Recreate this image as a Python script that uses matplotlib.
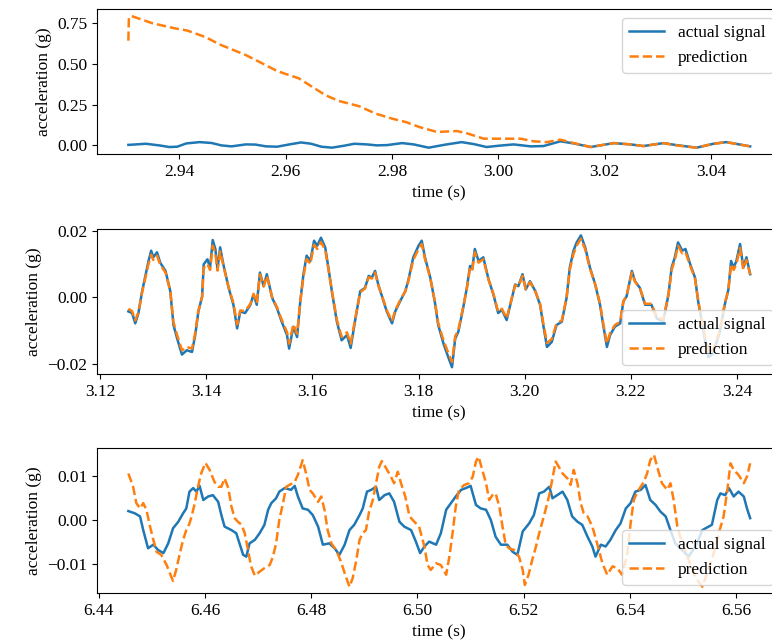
import matplotlib
matplotlib.use('Agg')
import matplotlib.pyplot as plt

plt.rcParams['font.family'] = ['Liberation Serif', 'DejaVu Serif']
plt.rcParams['font.size'] = 12.5

# panel 1: start of prediction
t1a = [2.9304, 2.9337, 2.9362, 2.9381, 2.9396, 2.9413, 2.9438, 2.9460, 2.9479, 2.9498,
       2.9525, 2.9543, 2.9563, 2.9584, 2.9607, 2.9629, 2.9648, 2.9667, 2.9687, 2.9710,
       2.9729, 2.9753, 2.9772, 2.9791, 2.9819, 2.9841, 2.9869, 2.9901, 2.9931, 2.9954,
       2.9978, 3.0001, 3.0029, 3.0061, 3.0085, 3.0117, 3.0142, 3.0174, 3.0217, 3.0249,
       3.0273, 3.0311, 3.0335, 3.0373, 3.0405, 3.0429, 3.0474]
a1 = [0.003, 0.010, 0.000, -0.010, -0.008, 0.012, 0.020, 0.015, 0.000, -0.006,
      0.006, 0.005, -0.006, -0.008, 0.006, 0.018, 0.010, -0.008, -0.014, -0.002,
      0.010, 0.006, 0.000, 0.002, 0.014, 0.006, -0.014, 0.005, 0.020, 0.008,
      -0.010, -0.002, 0.006, -0.006, -0.004, 0.025, 0.012, -0.010, 0.014, 0.006,
      -0.004, 0.014, 0.002, -0.014, 0.010, 0.020, -0.006]
t1p = [2.9304, 2.9305, 2.9309, 2.9349, 2.9391, 2.9415, 2.9450, 2.9475, 2.9525, 2.9556,
       2.9584, 2.9625, 2.9640, 2.9675, 2.9700, 2.9738, 2.9769, 2.9800, 2.9826, 2.9851,
       2.9885, 2.9922, 2.9941, 2.9973, 3.0042, 3.0067, 3.0091, 3.0117, 3.0142, 3.0174,
       3.0217, 3.0249, 3.0273, 3.0311, 3.0335, 3.0373, 3.0405, 3.0429, 3.0474]
p1 = [0.641, 0.780, 0.793, 0.748, 0.717, 0.703, 0.662, 0.619, 0.553, 0.502,
      0.455, 0.410, 0.379, 0.307, 0.272, 0.240, 0.195, 0.164, 0.143, 0.113,
      0.082, 0.088, 0.074, 0.041, 0.041, 0.025, 0.020, 0.035, 0.014, -0.010,
      0.014, 0.006, -0.004, 0.014, 0.000, -0.014, 0.010, 0.020, -0.006]

# panel 2: prediction follows signal
t2 = [3.1253, 3.1260, 3.1266, 3.1272, 3.1279, 3.1285, 3.1291, 3.1296, 3.1300, 3.1307,
      3.1313, 3.1323, 3.1332, 3.1338, 3.1345, 3.1354, 3.1363, 3.1373, 3.1379, 3.1385,
      3.1392, 3.1395, 3.1402, 3.1407, 3.1412, 3.1417, 3.1421, 3.1426, 3.1432, 3.1442,
      3.1451, 3.1458, 3.1464, 3.1473, 3.1483, 3.1489, 3.1495, 3.1501, 3.1508, 3.1514,
      3.1524, 3.1533, 3.1542, 3.1552, 3.1556, 3.1564, 3.1571, 3.1577, 3.1583, 3.1589,
      3.1596, 3.1603, 3.1609, 3.1616, 3.1624, 3.1630, 3.1637, 3.1646, 3.1655, 3.1665,
      3.1672, 3.1680, 3.1690, 3.1699, 3.1706, 3.1712, 3.1718, 3.1724, 3.1734, 3.1740,
      3.1750, 3.1756, 3.1765, 3.1775, 3.1781, 3.1790, 3.1800, 3.1806, 3.1812, 3.1822,
      3.1831, 3.1837, 3.1847, 3.1856, 3.1863, 3.1869, 3.1875, 3.1884, 3.1891, 3.1897,
      3.1901, 3.1906, 3.1913, 3.1922, 3.1932, 3.1941, 3.1950, 3.1957, 3.1966, 3.1976,
      3.1982, 3.1988, 3.1996, 3.2002, 3.2010, 3.2020, 3.2029, 3.2035, 3.2042, 3.2051,
      3.2060, 3.2070, 3.2079, 3.2085, 3.2092, 3.2098, 3.2106, 3.2114, 3.2123, 3.2133,
      3.2142, 3.2148, 3.2155, 3.2161, 3.2170, 3.2180, 3.2186, 3.2192, 3.2202, 3.2208,
      3.2217, 3.2227, 3.2239, 3.2249, 3.2261, 3.2271, 3.2277, 3.2283, 3.2289, 3.2297,
      3.2303, 3.2312, 3.2321, 3.2327, 3.2337, 3.2346, 3.2355, 3.2368, 3.2377, 3.2384,
      3.2389, 3.2394, 3.2399, 3.2406, 3.2412, 3.2418, 3.2425]
a2 = [-0.0043, -0.0048, -0.0079, -0.0048, 0.0018, 0.0064, 0.0109, 0.0140, 0.0120, 0.0135,
      0.0104, 0.0079, 0.0018, -0.0084, -0.0125, -0.0173, -0.0160, -0.0165, -0.0114, -0.0043,
      0.0002, 0.0099, 0.0114, 0.0089, 0.0172, 0.0145, 0.0084, 0.0150, 0.0099, 0.0028,
      -0.0023, -0.0094, -0.0043, -0.0048, -0.0023, 0.0008, -0.0023, 0.0074, 0.0033, 0.0069,
      -0.0002, -0.0033, -0.0074, -0.0114, -0.0155, -0.0089, -0.0120, -0.0013, 0.0069, 0.0125,
      0.0109, 0.0170, 0.0155, 0.0179, 0.0150, 0.0089, 0.0013, -0.0074, -0.0130, -0.0114,
      -0.0153, -0.0074, 0.0018, 0.0028, 0.0064, 0.0059, 0.0079, 0.0038, -0.0013, -0.0043,
      -0.0079, -0.0043, -0.0013, 0.0018, 0.0053, 0.0120, 0.0155, 0.0170, 0.0120, 0.0059,
      -0.0018, -0.0084, -0.0140, -0.0181, -0.0211, -0.0125, -0.0104, -0.0033, 0.0028, 0.0094,
      0.0084, 0.0145, 0.0109, 0.0120, 0.0053, 0.0008, -0.0048, -0.0038, -0.0069, -0.0002,
      0.0038, 0.0033, 0.0069, 0.0023, 0.0048, 0.0018, -0.0023, -0.0084, -0.0150, -0.0135,
      -0.0084, -0.0074, -0.0002, 0.0089, 0.0140, 0.0165, 0.0186, 0.0150, 0.0089, 0.0038,
      -0.0023, -0.0084, -0.0150, -0.0114, -0.0089, -0.0079, -0.0013, 0.0002, 0.0079, 0.0048,
      0.0028, -0.0023, -0.0023, -0.0064, -0.0074, 0.0008, 0.0089, 0.0120, 0.0165, 0.0140,
      0.0145, 0.0099, 0.0059, -0.0013, -0.0104, -0.0181, -0.0170, -0.0104, -0.0023, 0.0023,
      0.0109, 0.0089, 0.0109, 0.0160, 0.0089, 0.0120, 0.0069]
p2 = [-0.0035, -0.0042, -0.0070, -0.0045, 0.0015, 0.0058, 0.0100, 0.0128, 0.0112, 0.0125,
      0.0098, 0.0074, 0.0020, -0.0075, -0.0115, -0.0160, -0.0150, -0.0155, -0.0108, -0.0040,
      0.0000, 0.0088, 0.0100, 0.0082, 0.0155, 0.0132, 0.0080, 0.0138, 0.0095, 0.0030,
      -0.0018, -0.0082, -0.0040, -0.0042, -0.0020, 0.0010, -0.0018, 0.0068, 0.0032, 0.0064,
      0.0000, -0.0030, -0.0068, -0.0105, -0.0140, -0.0082, -0.0110, -0.0015, 0.0062, 0.0115,
      0.0100, 0.0158, 0.0145, 0.0166, 0.0142, 0.0085, 0.0015, -0.0068, -0.0120, -0.0106,
      -0.0140, -0.0070, 0.0015, 0.0026, 0.0060, 0.0056, 0.0074, 0.0036, -0.0010, -0.0040,
      -0.0072, -0.0040, -0.0010, 0.0018, 0.0050, 0.0112, 0.0145, 0.0160, 0.0115, 0.0058,
      -0.0015, -0.0078, -0.0130, -0.0168, -0.0195, -0.0118, -0.0098, -0.0030, 0.0026, 0.0088,
      0.0080, 0.0135, 0.0104, 0.0114, 0.0052, 0.0010, -0.0044, -0.0035, -0.0064, 0.0000,
      0.0036, 0.0032, 0.0064, 0.0024, 0.0045, 0.0018, -0.0020, -0.0078, -0.0138, -0.0126,
      -0.0080, -0.0070, 0.0000, 0.0082, 0.0130, 0.0155, 0.0176, 0.0144, 0.0086, 0.0038,
      -0.0020, -0.0078, -0.0140, -0.0108, -0.0084, -0.0074, -0.0012, 0.0004, 0.0074, 0.0046,
      0.0028, -0.0020, -0.0020, -0.0060, -0.0068, 0.0008, 0.0082, 0.0112, 0.0155, 0.0132,
      0.0136, 0.0094, 0.0056, -0.0010, -0.0096, -0.0168, -0.0160, -0.0098, -0.0020, 0.0022,
      0.0100, 0.0082, 0.0100, 0.0148, 0.0084, 0.0112, 0.0068]

# panel 3: prediction out of phase
t3a = [6.4456, 6.4468, 6.4478, 6.4484, 6.4493, 6.4503, 6.4512, 6.4522, 6.4531, 6.4540,
       6.4550, 6.4559, 6.4565, 6.4571, 6.4578, 6.4584, 6.4590, 6.4597, 6.4606, 6.4615,
       6.4625, 6.4631, 6.4637, 6.4650, 6.4659, 6.4665, 6.4672, 6.4678, 6.4684, 6.4694,
       6.4703, 6.4712, 6.4719, 6.4725, 6.4734, 6.4740, 6.4750, 6.4762, 6.4769, 6.4775,
       6.4784, 6.4794, 6.4803, 6.4813, 6.4822, 6.4834, 6.4844, 6.4853, 6.4863, 6.4872,
       6.4881, 6.4891, 6.4897, 6.4905, 6.4913, 6.4922, 6.4928, 6.4938, 6.4947, 6.4956,
       6.4966, 6.4975, 6.4988, 6.4997, 6.5005, 6.5013, 6.5022, 6.5035, 6.5044, 6.5054,
       6.5063, 6.5072, 6.5082, 6.5091, 6.5100, 6.5110, 6.5119, 6.5129, 6.5138, 6.5147,
       6.5157, 6.5169, 6.5179, 6.5188, 6.5198, 6.5210, 6.5219, 6.5229, 6.5238, 6.5248,
       6.5254, 6.5263, 6.5273, 6.5282, 6.5291, 6.5301, 6.5310, 6.5320, 6.5329, 6.5335,
       6.5345, 6.5354, 6.5363, 6.5373, 6.5382, 6.5392, 6.5401, 6.5410, 6.5420, 6.5429,
       6.5438, 6.5448, 6.5457, 6.5467, 6.5476, 6.5485, 6.5498, 6.5510, 6.5523, 6.5536,
       6.5554, 6.5564, 6.5570, 6.5579, 6.5586, 6.5595, 6.5604, 6.5614, 6.5620, 6.5626]
a3 = [0.0020, 0.0015, 0.0008, -0.0023, -0.0064, -0.0056, -0.0068, -0.0075, -0.0053, -0.0019,
      -0.0004, 0.0015, 0.0026, 0.0064, 0.0072, 0.0064, 0.0077, 0.0045, 0.0053, 0.0056,
      0.0041, 0.0011, -0.0015, -0.0023, -0.0030, -0.0053, -0.0079, -0.0083, -0.0053, -0.0045,
      -0.0030, -0.0011, 0.0023, 0.0038, 0.0049, 0.0064, 0.0072, 0.0068, 0.0077, 0.0053,
      0.0026, 0.0023, 0.0011, -0.0015, -0.0056, -0.0053, -0.0064, -0.0079, -0.0056, -0.0023,
      -0.0011, 0.0011, 0.0026, 0.0064, 0.0068, 0.0075, 0.0045, 0.0056, 0.0060, 0.0041,
      -0.0004, -0.0015, -0.0023, -0.0049, -0.0075, -0.0060, -0.0049, -0.0056, -0.0030, 0.0023,
      0.0038, 0.0053, 0.0068, 0.0072, 0.0077, 0.0034, 0.0026, 0.0023, 0.0000, -0.0038,
      -0.0056, -0.0056, -0.0072, -0.0079, -0.0026, -0.0008, 0.0011, 0.0060, 0.0064, 0.0075,
      0.0049, 0.0056, 0.0064, 0.0045, 0.0008, -0.0004, -0.0011, -0.0038, -0.0060, -0.0083,
      -0.0056, -0.0060, -0.0045, -0.0023, -0.0008, 0.0026, 0.0038, 0.0064, 0.0068, 0.0079,
      0.0045, 0.0034, 0.0019, 0.0008, -0.0023, -0.0053, -0.0068, -0.0083, -0.0060, -0.0023,
      -0.0011, 0.0045, 0.0060, 0.0056, 0.0072, 0.0053, 0.0064, 0.0053, 0.0026, 0.0004]
t3p = [6.4456, 6.4465, 6.4471, 6.4478, 6.4484, 6.4490, 6.4496, 6.4503, 6.4509, 6.4518,
       6.4528, 6.4534, 6.4540, 6.4546, 6.4553, 6.4559, 6.4565, 6.4571, 6.4575, 6.4581,
       6.4587, 6.4593, 6.4601, 6.4609, 6.4618, 6.4625, 6.4631, 6.4637, 6.4644, 6.4650,
       6.4656, 6.4662, 6.4669, 6.4675, 6.4681, 6.4687, 6.4694, 6.4703, 6.4712, 6.4722,
       6.4728, 6.4734, 6.4740, 6.4747, 6.4753, 6.4759, 6.4769, 6.4775, 6.4784, 6.4791,
       6.4797, 6.4803, 6.4813, 6.4819, 6.4825, 6.4831, 6.4838, 6.4847, 6.4856, 6.4864,
       6.4872, 6.4878, 6.4885, 6.4891, 6.4897, 6.4903, 6.4909, 6.4916, 6.4922, 6.4928,
       6.4933, 6.4941, 6.4950, 6.4956, 6.4963, 6.4969, 6.4977, 6.4985, 6.4994, 6.5003,
       6.5013, 6.5019, 6.5025, 6.5035, 6.5044, 6.5054, 6.5060, 6.5066, 6.5072, 6.5078,
       6.5088, 6.5097, 6.5104, 6.5110, 6.5115, 6.5122, 6.5129, 6.5135, 6.5141, 6.5147,
       6.5154, 6.5160, 6.5166, 6.5172, 6.5182, 6.5191, 6.5198, 6.5202, 6.5209, 6.5216,
       6.5223, 6.5229, 6.5235, 6.5241, 6.5248, 6.5254, 6.5260, 6.5266, 6.5273, 6.5282,
       6.5288, 6.5294, 6.5301, 6.5307, 6.5313, 6.5320, 6.5329, 6.5338, 6.5348, 6.5357,
       6.5367, 6.5376, 6.5385, 6.5395, 6.5401, 6.5407, 6.5414, 6.5420, 6.5426, 6.5432,
       6.5438, 6.5445, 6.5451, 6.5460, 6.5470, 6.5476, 6.5482, 6.5489, 6.5498, 6.5514,
       6.5523, 6.5536, 6.5554, 6.5567, 6.5576, 6.5583, 6.5589, 6.5595, 6.5604, 6.5614,
       6.5620, 6.5626]
p3 = [0.0105, 0.0075, 0.0038, 0.0026, 0.0038, 0.0023, -0.0011, -0.0045, -0.0072, -0.0079,
      -0.0102, -0.0120, -0.0138, -0.0113, -0.0075, -0.0045, -0.0023, -0.0008, 0.0008, 0.0038,
      0.0075, 0.0105, 0.0129, 0.0113, 0.0086, 0.0075, 0.0075, 0.0094, 0.0072, 0.0030,
      0.0004, -0.0004, -0.0011, -0.0030, -0.0068, -0.0105, -0.0126, -0.0117, -0.0109, -0.0102,
      -0.0083, -0.0053, 0.0000, 0.0038, 0.0075, 0.0079, 0.0086, 0.0102, 0.0135, 0.0102,
      0.0068, 0.0060, 0.0041, 0.0053, 0.0023, -0.0023, -0.0053, -0.0068, -0.0094, -0.0124,
      -0.0151, -0.0132, -0.0090, -0.0045, -0.0030, -0.0023, 0.0019, 0.0045, 0.0083, 0.0120,
      0.0133, 0.0117, 0.0098, 0.0083, 0.0109, 0.0083, 0.0053, 0.0008, -0.0004, -0.0015,
      -0.0060, -0.0102, -0.0113, -0.0098, -0.0102, -0.0124, -0.0083, -0.0030, 0.0030, 0.0068,
      0.0079, 0.0083, 0.0098, 0.0132, 0.0143, 0.0113, 0.0083, 0.0045, 0.0056, 0.0060,
      0.0030, -0.0015, -0.0056, -0.0064, -0.0068, -0.0083, -0.0113, -0.0147, -0.0124, -0.0090,
      -0.0060, -0.0030, -0.0004, 0.0023, 0.0056, 0.0094, 0.0132, 0.0120, 0.0105, 0.0094,
      0.0079, 0.0113, 0.0083, 0.0038, 0.0015, 0.0008, -0.0015, -0.0053, -0.0098, -0.0124,
      -0.0105, -0.0109, -0.0124, -0.0075, -0.0008, 0.0045, 0.0064, 0.0075, 0.0086, 0.0105,
      0.0135, 0.0147, 0.0120, 0.0083, 0.0068, 0.0083, 0.0045, -0.0015, -0.0053, -0.0102,
      -0.0130, -0.0151, -0.0090, -0.0030, 0.0008, 0.0068, 0.0128, 0.0113, 0.0102, 0.0083,
      0.0098, 0.0128]

panels = [
    (t1a, a1, t1p, p1, 'upper right'),
    (t2, a2, t2, p2, 'lower right'),
    (t3a, a3, t3p, p3, 'lower right'),
]

fig, axes = plt.subplots(3, 1, figsize=(7.72, 6.44), dpi=100)
# right edge sits just past the figure, like the cropped original
fig.subplots_adjust(left=0.126, right=1.012, top=0.9856, bottom=0.0787, hspace=0.514)

for ax, (ta, ya, tp, yp, loc) in zip(axes, panels):
    ax.plot(ta, ya, color='tab:blue', lw=1.8, label='actual signal')
    ax.plot(tp, yp, color='tab:orange', ls='--', lw=1.8, label='prediction')
    ax.set_xlabel('time (s)')
    ax.set_ylabel('acceleration (g)')
    ax.legend(loc=loc)

fig.savefig('out.png', dpi=100)
